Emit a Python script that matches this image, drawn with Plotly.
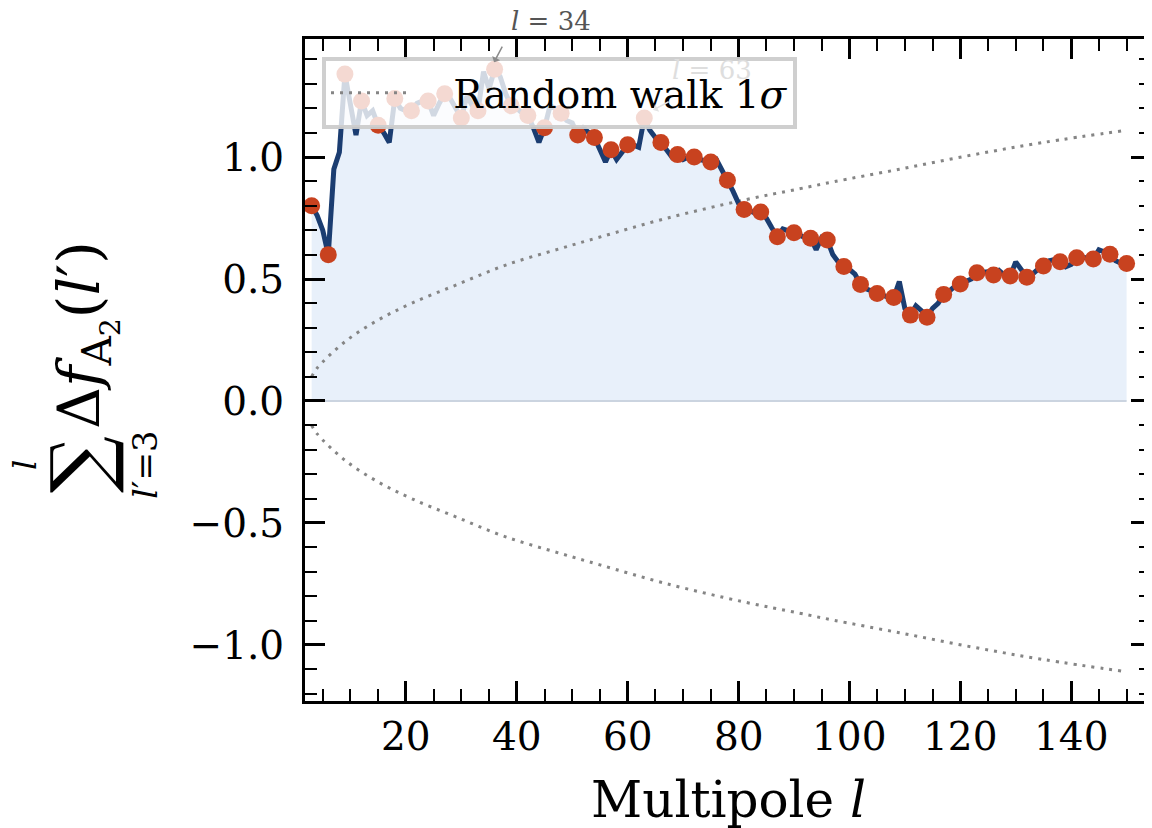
import plotly.graph_objects as go

# ---------------- data ----------------
# cumulative sum of Delta f_A2 for multipoles l = 3 .. 150
cum_vals = [
    0.80, 0.76, 0.70, 0.60, 0.95, 1.02, 1.34, 1.21, 1.09, 1.23,   # 3-12
    1.17, 1.19, 1.13, 1.10, 1.06, 1.24, 1.20, 1.19, 1.19, 1.22,   # 13-22
    1.23, 1.23, 1.17, 1.22, 1.26, 1.24, 1.20, 1.16, 1.25, 1.21,   # 23-32
    1.19, 1.35, 1.28, 1.36, 1.33, 1.26, 1.21, 1.20, 1.18, 1.17,   # 33-42
    1.12, 1.06, 1.12, 1.21, 1.20, 1.18, 1.15, 1.14, 1.09, 1.12,   # 43-52
    1.10, 1.08, 1.03, 0.98, 1.03, 0.99, 1.02, 1.05, 1.05, 1.04,   # 53-62
    1.16, 1.11, 1.08, 1.06, 1.03, 1.00, 1.01, 0.99, 1.00, 1.00,   # 63-72
    0.99, 0.985, 0.98, 0.99, 0.95, 0.905, 0.86, 0.81, 0.785, 0.78, # 73-82
    0.77, 0.775, 0.75, 0.71, 0.673, 0.705, 0.70, 0.69, 0.68, 0.67, # 83-92
    0.667, 0.62, 0.67, 0.66, 0.60, 0.57, 0.551, 0.54, 0.52, 0.478, # 93-102
    0.46, 0.45, 0.441, 0.43, 0.425, 0.424, 0.49, 0.38, 0.352, 0.39, # 103-112
    0.37, 0.343, 0.38, 0.40, 0.437, 0.45, 0.47, 0.48, 0.49, 0.50,  # 113-122
    0.526, 0.53, 0.53, 0.516, 0.535, 0.515, 0.512, 0.57, 0.54, 0.507, # 123-132
    0.52, 0.54, 0.553, 0.575, 0.58, 0.571, 0.55, 0.56, 0.587, 0.59, # 133-142
    0.585, 0.582, 0.62, 0.61, 0.602, 0.575, 0.565, 0.564,          # 143-150
]
multipoles = list(range(3, 3 + len(cum_vals)))
marker_step = 3

# random-walk 1 sigma envelope
rw_l = [3, 4, 9, 15, 21, 29, 38, 48, 55, 67, 81, 91, 97, 109, 122, 135, 150]
rw_sigma = [0.10, 0.135, 0.243, 0.332, 0.40, 0.475, 0.557, 0.626, 0.672,
            0.749, 0.824, 0.870, 0.898, 0.950, 1.008, 1.06, 1.11]

x_ticks = [20, 40, 60, 80, 100, 120, 140]
y_ticks = [-1.0, -0.5, 0.0, 0.5, 1.0]

FONT = "DejaVu Serif"
LINE_C = "#1b3d71"
MARK_C = "#c8421f"
FILL_C = "#e8f0fa"

fig = go.Figure()

fig.add_trace(go.Scatter(x=multipoles, y=cum_vals, mode="lines", fill="tozeroy",
                         fillcolor=FILL_C, line=dict(width=0), showlegend=False,
                         hoverinfo="skip"))
fig.add_trace(go.Scatter(x=[multipoles[0], multipoles[-1]], y=[0, 0], mode="lines",
                         line=dict(color="#cbd4e0", width=2), showlegend=False,
                         hoverinfo="skip"))
fig.add_trace(go.Scatter(x=rw_l, y=rw_sigma, mode="lines",
                         line=dict(color="#858585", width=3, dash="3px,6px", shape="spline"),
                         name="\u00a0\u00a0\u00a0Random walk 1<i>σ</i>"))
fig.add_trace(go.Scatter(x=rw_l, y=[-v for v in rw_sigma], mode="lines",
                         line=dict(color="#858585", width=3, dash="3px,6px", shape="spline"),
                         showlegend=False))
fig.add_trace(go.Scatter(x=multipoles, y=cum_vals, mode="lines",
                         line=dict(color=LINE_C, width=5), showlegend=False))
fig.add_trace(go.Scatter(x=multipoles[::marker_step], y=cum_vals[::marker_step],
                         mode="markers", marker=dict(color=MARK_C, size=17, line=dict(width=0)),
                         showlegend=False))

axis_common = dict(
    showline=True, linecolor="black", linewidth=3, mirror="allticks",
    ticks="inside", ticklen=20, tickwidth=2.5, tickcolor="black",
    showgrid=False, zeroline=False, automargin=False,
    tickfont=dict(family=FONT, size=39, color="black"),
)

# x tick labels are placed as text under each tick value (below)
fig.update_xaxes(
    range=[1.8, 154.4], tickvals=x_ticks, showticklabels=False,
    minor=dict(ticks="inside", ticklen=12, tickwidth=2, dtick=5, tick0=0, tickcolor="black"),
    **axis_common,
)
fig.update_yaxes(
    range=[-1.23, 1.484], tickvals=y_ticks, tickformat=".1f", ticklabelstandoff=10,
    minor=dict(ticks="inside", ticklen=12, tickwidth=2, dtick=0.1, tick0=0, tickcolor="black"),
    **axis_common,
)

# y-axis label built from pieces (sum with limits); positions in paper units
ylab = [
    dict(text="∑", x=-0.2660, y=0.3580, size=80),
    dict(text="<i>l</i>", x=-0.331, y=0.3565, size=32),
    dict(text="<i>l</i>′=3", x=-0.189, y=0.3565, size=34),
    dict(text="Δ<i>f</i><sub>A<sub>2</sub></sub>(<i>l</i>′)", x=-0.2589, y=0.553, size=58),
]
annots = []
for p in ylab:
    annots.append(dict(text=p["text"], x=p["x"], y=p["y"], xref="paper", yref="paper",
                       xanchor="center", yanchor="middle", textangle=-90, showarrow=False,
                       font=dict(family=FONT, size=p["size"], color="black")))

for t in x_ticks:
    annots.append(dict(text=str(t), x=t, y=-0.0529, xref="x", yref="paper",
                       xanchor="center", yanchor="middle", showarrow=False,
                       font=dict(family=FONT, size=39, color="black")))

annots += [
    dict(text="Multipole <i>l</i>", x=0.5, y=-0.1495, xref="paper", yref="paper",
         xanchor="center", yanchor="middle", showarrow=False,
         font=dict(family=FONT, size=50, color="black")),
    dict(text="<i>l</i> = 34", x=0.2908, y=1.027, xref="paper", yref="paper",
         xanchor="center", yanchor="middle",
         showarrow=False, font=dict(family=FONT, size=26, color="#555555")),
    dict(text="", x=35.9, y=1.389, xref="x", yref="y", ax=9, ay=-17,
         showarrow=True, arrowhead=1, arrowsize=1, arrowwidth=1.5, arrowcolor="#8a8a8a"),
    dict(text="<i>l</i> = 63", x=0.481, y=0.953, xref="paper", yref="paper",
         xanchor="center", yanchor="middle",
         showarrow=False, font=dict(family=FONT, size=26, color="#dedede")),
    dict(text="", x=64.6, y=1.193, xref="x", yref="y", ax=17, ay=-9,
         showarrow=True, arrowhead=1, arrowsize=1, arrowwidth=1.5, arrowcolor="#e2e2e2"),
]

# the page body adds an 8px margin, so the figure is 8px smaller and margins reduced
fig.update_layout(
    width=1144, height=820,
    margin=dict(l=297, r=1, t=31, b=127),
    paper_bgcolor="white", plot_bgcolor="white",
    font=dict(family=FONT, color="black"),
    legend=dict(x=0.0201, y=0.9728, xanchor="left", yanchor="top",
                bgcolor="rgba(255,255,255,0.8)", bordercolor="rgba(204,204,204,0.95)",
                borderwidth=4, font=dict(family=FONT, size=39, color="black"),
                itemwidth=80),
    annotations=annots,
)

fig.write_html("out.html")
